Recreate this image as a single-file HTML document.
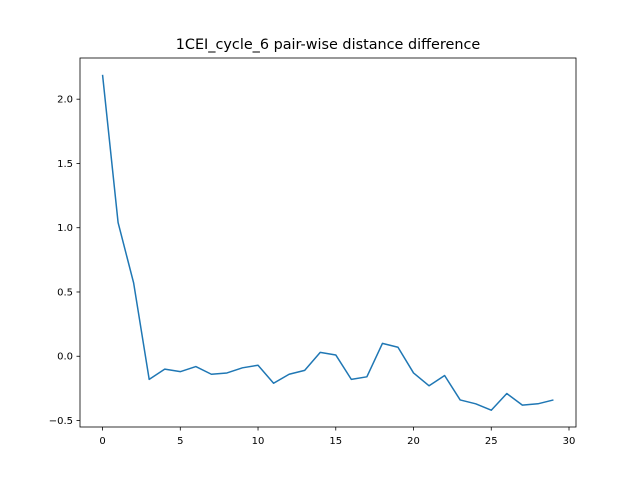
<!DOCTYPE html>
<html><head><meta charset="utf-8"><style>
body{margin:0;background:#fff;}
svg text{font-family:"DejaVu Sans","Liberation Sans",sans-serif;}
</style></head><body>
<svg id="chart" width="640" height="480" xmlns="http://www.w3.org/2000/svg">
<rect width="640" height="480" fill="#fff"/>
<text x="328" y="49" font-size="14.4" text-anchor="middle">1CEI_cycle_6 pair-wise distance difference</text>
<g id="ticks"></g>
<path id="line" fill="none" stroke="#1f77b4" stroke-width="1.5" stroke-linejoin="round"/>
<rect x="80" y="58" width="496" height="369" fill="none" stroke="#000" stroke-width="0.8"/>
</svg>
<script>
const values = [2.19,1.04,0.57,-0.18,-0.10,-0.12,-0.08,-0.14,-0.13,-0.09,-0.07,-0.21,-0.14,-0.11,0.03,0.01,-0.18,-0.16,0.10,0.07,-0.13,-0.23,-0.15,-0.34,-0.37,-0.42,-0.29,-0.38,-0.37,-0.34];
const xTicks = [0,5,10,15,20,25,30];
const yTicks = [-0.5,0.0,0.5,1.0,1.5,2.0];
const yTickLabels = ["−0.5","0.0","0.5","1.0","1.5","2.0"];

const L=80,R=576,T=58,B=427;
const xmin=0, xmax=values.length-1, xpad=(xmax-xmin)*0.05;
let ymin=Math.min(...values), ymax=Math.max(...values), ypad=(ymax-ymin)*0.05;
const xs=v=>L+(v-(xmin-xpad))/((xmax+xpad)-(xmin-xpad))*(R-L);
const ys=v=>B-(v-(ymin-ypad))/((ymax+ypad)-(ymin-ypad))*(B-T);
const NS="http://www.w3.org/2000/svg";
const g=document.getElementById('ticks');
function mk(tag,attrs){const e=document.createElementNS(NS,tag);for(const k in attrs)e.setAttribute(k,attrs[k]);g.appendChild(e);return e;}
xTicks.forEach(t=>{
  const x=xs(t);
  const l=mk('line',{x1:x,x2:x,y1:B,y2:B+3.5,stroke:'#000','stroke-width':0.8});
  
  
  const tx=mk('text',{x:x,y:B+17,'font-size':10,'text-anchor':'middle'});
  tx.textContent=t;
  
  
});
yTicks.forEach((t,i)=>{
  const y=ys(t);
  const l=mk('line',{x1:L-3.5,x2:L,y1:y,y2:y,stroke:'#000','stroke-width':0.8});
  
  
  const tx=mk('text',{x:L-7,y:y+3.5,'font-size':10,'text-anchor':'end'});
  tx.textContent=yTickLabels[i];
  
  
});
document.getElementById('line').setAttribute('d',values.map((v,i)=>(i?'L':'M')+xs(i).toFixed(2)+' '+ys(v).toFixed(2)).join(' '));
</script>
</body></html>
